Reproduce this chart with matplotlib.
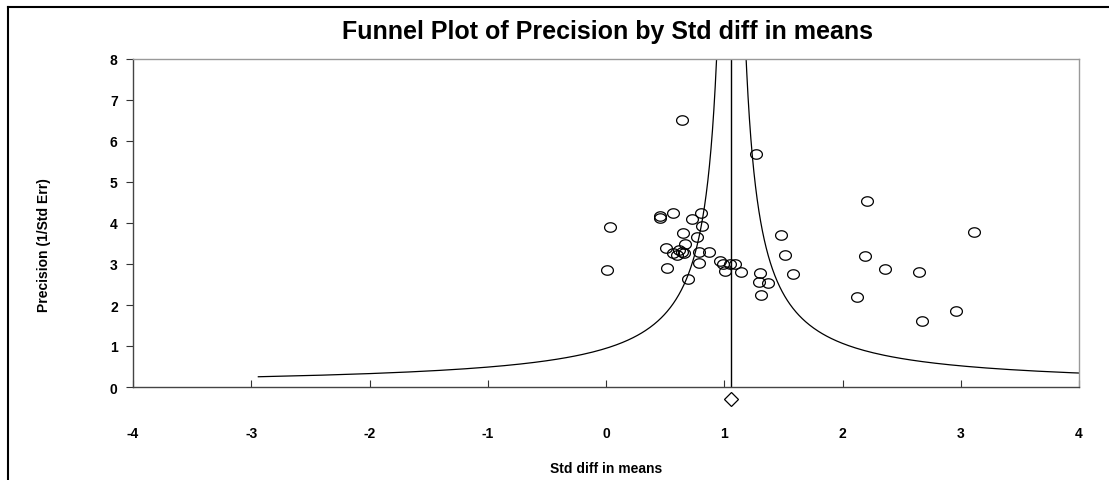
import matplotlib.pyplot as plt
import numpy as np
from matplotlib.lines import Line2D
from matplotlib.path import Path

# study effects (std diff in means) and precision (1/SE)
std_diff = [0.64, 0.03, 0.01, 0.46, 0.46, 0.57, 0.52, 0.51, 0.65, 0.73,
            0.80, 0.81, 0.77, 0.67, 0.64, 0.57, 0.60, 0.62, 0.66, 0.79,
            0.87, 0.79, 0.69, 0.96, 0.99, 1.01, 1.05, 1.09, 1.14,
            1.27, 1.30, 1.29, 1.37, 1.31, 1.48, 1.51, 1.58, 2.21, 2.19,
            2.36, 2.65, 2.12, 2.67, 2.96, 3.11]
precision = [6.51, 3.90, 2.85, 4.17, 4.12, 4.24, 2.90, 3.39, 3.76, 4.10,
             4.24, 3.93, 3.66, 3.49, 3.30, 3.27, 3.22, 3.33, 3.26, 3.29,
             3.29, 3.03, 2.63, 3.07, 3.00, 2.83, 3.00, 3.00, 2.80,
             5.68, 2.78, 2.56, 2.54, 2.24, 3.71, 3.22, 2.76, 4.54, 3.20,
             2.88, 2.80, 2.20, 1.61, 1.85, 3.78]
pooled = 1.06
xticks = [-4, -3, -2, -1, 0, 1, 2, 3, 4]
yticks = [0, 1, 2, 3, 4, 5, 6, 7, 8]

plt.rcParams["font.family"] = ["Liberation Sans", "DejaVu Sans"]
plt.rcParams["font.weight"] = "bold"

fig = plt.figure(figsize=(11.09, 4.81), dpi=100)
ax = fig.add_axes([133 / 1109, 1 - 388 / 481, 946 / 1109, 328 / 481])

# slightly wide open ellipse marker
t = np.linspace(0, 2 * np.pi, 60)
ell = Path(np.column_stack([1.25 * np.cos(t), np.sin(t)]))

ax.plot(std_diff, precision, linestyle="none", marker=ell, markersize=8.5,
        markerfacecolor="none", markeredgecolor="black", markeredgewidth=0.9, zorder=3)

p = np.linspace(0.25, 8, 400)
ax.plot(pooled - 1.0 / p, p, color="black", lw=0.9)
ax.plot(pooled + 1.0 / p, p, color="black", lw=0.9)
ax.plot([pooled, pooled], [0, 8], color="black", lw=1.0)

# summary diamond below the axis
ax.plot([pooled], [-0.29], marker="D", markersize=7, markerfacecolor="white",
        markeredgecolor="black", markeredgewidth=0.9, clip_on=False, zorder=4)

ax.set_xlim(-4, 4)
ax.set_ylim(0, 8)
ax.set_xticks(xticks)
ax.set_yticks(yticks)
ax.set_xticklabels([str(v) for v in xticks])
ax.set_yticklabels([str(v) for v in yticks])
ax.tick_params(axis="x", direction="in", length=5, pad=28, labelsize=10, colors="#333333")
ax.tick_params(axis="y", direction="out", length=5, pad=6, labelsize=10, colors="#333333")
for lab in ax.get_xticklabels() + ax.get_yticklabels():
    lab.set_color("black")
    lab.set_fontweight("bold")

for side in ["left", "bottom"]:
    ax.spines[side].set_color("#444444")
    ax.spines[side].set_linewidth(1.0)
for side in ["top", "right"]:
    ax.spines[side].set_color("#999999")
    ax.spines[side].set_linewidth(1.0)

ax.set_xlabel("Std diff in means", fontsize=10, fontweight="bold", labelpad=15)
ax.set_ylabel("Precision (1/Std Err)", fontsize=10, fontweight="bold")
ax.yaxis.set_label_coords((51 - 133) / 946, (388 - 245) / 328)
fig.text(607 / 1109, 1 - 32 / 481, "Funnel Plot of Precision by Std diff in means",
         ha="center", va="center", fontsize=18, fontweight="bold")

# outer frame lines (left and top)
fig.add_artist(Line2D([8 / 1109, 8 / 1109], [0, 1 - 8 / 481], color="black", lw=1.5))
fig.add_artist(Line2D([8 / 1109, 1], [1 - 8 / 481, 1 - 8 / 481], color="black", lw=1.5))

fig.savefig("out.png", dpi=100)
